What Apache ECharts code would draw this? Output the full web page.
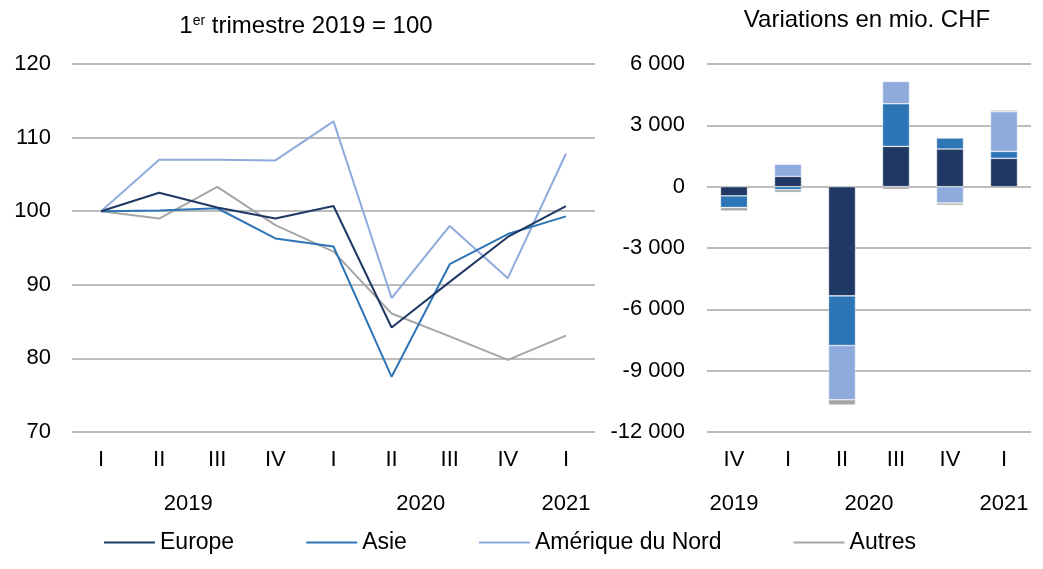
<!DOCTYPE html>
<html>
<head>
    <meta charset="UTF-8">
    <title></title>
    <style>
        html, body { margin: 0; padding: 0; background: #fff; }
        #container { width: 1043px; height: 569px; }
    </style>
</head>
<body>
    <div id="container"></div>
    <script src="https://cdn.jsdelivr.net/npm/echarts@6/dist/echarts.min.js"></script>
    <script>
        // indice, 1er trimestre 2019 = 100
        var quartersLeft = ['I', 'II', 'III', 'IV', 'I', 'II', 'III', 'IV', 'I'];
        var yearsLeft = ['2019', '2019', '2019', '2019', '2020', '2020', '2020', '2020', '2021'];
        var europeIdx = [100, 102.5, 100.5, 99.0, 100.7, 84.2, 90.4, 96.5, 100.7];
        var asieIdx = [100, 100.1, 100.4, 96.3, 95.2, 77.5, 92.8, 96.9, 99.3];
        var ameriqueIdx = [100, 107.0, 107.0, 106.9, 112.2, 88.2, 98.0, 90.9, 107.8];
        var autresIdx = [100, 99.0, 103.3, 98.1, 94.5, 86.1, 83.0, 79.8, 83.1];

        // variations en mio. CHF
        var quartersRight = ['IV', 'I', 'II', 'III', 'IV', 'I'];
        var yearsRight = ['2019', '2020', '2020', '2020', '2020', '2021'];
        var europeVar = [-450, 505, -5340, 1970, 1840, 1385];
        var asieVar = [-570, -150, -2430, 2085, 540, 340];
        var ameriqueVar = [0, 590, -2650, 1090, -800, 1940];
        var autresVar = [-170, -130, -260, -130, -110, 80];

        var names = ['Europe', 'Asie', 'Amérique du Nord', 'Autres'];
        var colors = ['#203864', '#2e75b6', '#8faadc', '#a6a6a6'];

        var FONT = '"Liberation Sans", Arial, sans-serif';
        var gridLine = { show: true, lineStyle: { color: '#a6a6a6', width: 1.5 } };

        // centre of each year's group of quarters, in category units
        function yearCenters(years) {
            var out = {};
            years.forEach(function (y, i) {
                if (!out[y]) out[y] = { a: i, b: i };
                out[y].b = i;
            });
            var vals = [], labels = {};
            Object.keys(out).forEach(function (y) {
                var c = (out[y].a + out[y].b + 1) / 2;
                vals.push(c);
                labels[c] = y;
            });
            return { vals: vals, labels: labels };
        }
        var yl = yearCenters(yearsLeft);
        var yr = yearCenters(yearsRight);

        function fmtThousands(v) {
            return String(v).replace(/\B(?=(\d{3})+(?!\d))/g, ' ');
        }

        function quarterAxis(grid, data) {
            return {
                type: 'category', gridIndex: grid, data: data, position: 'bottom',
                axisLine: { show: false }, axisTick: { show: false },
                axisLabel: { color: '#000', fontSize: 22, fontFamily: FONT, margin: 17 }
            };
        }
        function yearAxis(grid, n, yc) {
            return {
                type: 'value', gridIndex: grid, position: 'bottom', min: 0, max: n,
                axisLine: { show: false }, axisTick: { show: false }, splitLine: { show: false },
                axisLabel: {
                    customValues: yc.vals, color: '#000', fontSize: 22, fontFamily: FONT, margin: 61,
                    formatter: function (v) { return yc.labels[v] || ''; }
                }
            };
        }

        var series = [];
        [europeIdx, asieIdx, ameriqueIdx, autresIdx].forEach(function (d, i) {
            series.push({
                name: names[i], type: 'line', xAxisIndex: 0, yAxisIndex: 0, data: d,
                symbol: 'none', color: colors[i],
                lineStyle: { width: 2, color: colors[i] }, z: 10 - i
            });
        });
        [europeVar, asieVar, ameriqueVar, autresVar].forEach(function (d, i) {
            series.push({
                name: names[i], type: 'bar', xAxisIndex: 2, yAxisIndex: 1, data: d,
                stack: 'var', barWidth: '50%', color: colors[i],
                itemStyle: { color: colors[i], borderColor: 'rgba(255,255,255,0.7)', borderWidth: 0.6 }
            });
        });

        var myChart = echarts.init(document.getElementById('container'));
        myChart.setOption({
            animation: false,
            textStyle: { fontFamily: FONT },
            title: [{
                text: '1{sup|er} trimestre 2019 = 100', left: 301, top: 9, textAlign: 'center',
                textStyle: {
                    fontSize: 24, fontWeight: 'normal', color: '#000', fontFamily: FONT,
                    rich: { sup: { fontSize: 14, verticalAlign: 'top', color: '#000', fontFamily: FONT } }
                }
            }, {
                text: 'Variations en mio. CHF', left: 862, top: 3, textAlign: 'center',
                textStyle: { fontSize: 24, fontWeight: 'normal', color: '#000', fontFamily: FONT }
            }],
            legend: {
                data: names, left: 99, top: 526, icon: 'rect', itemWidth: 51, itemHeight: 2,
                itemGap: 72, textStyle: { fontSize: 23, color: '#000', fontFamily: FONT }
            },
            grid: [
                { left: 72, top: 64, width: 523, height: 368, containLabel: false },
                { left: 707, top: 64, width: 324, height: 368, containLabel: false }
            ],
            xAxis: [
                quarterAxis(0, quartersLeft),
                yearAxis(0, quartersLeft.length, yl),
                quarterAxis(1, quartersRight),
                yearAxis(1, quartersRight.length, yr)
            ],
            yAxis: [{
                type: 'value', gridIndex: 0, min: 70, max: 120, interval: 10,
                axisLine: { show: false }, axisTick: { show: false }, splitLine: gridLine,
                axisLabel: { color: '#000', fontSize: 22, fontFamily: FONT, margin: 21 }
            }, {
                type: 'value', gridIndex: 1, min: -12000, max: 6000, interval: 3000,
                axisLine: { show: false }, axisTick: { show: false }, splitLine: gridLine,
                axisLabel: { color: '#000', fontSize: 22, fontFamily: FONT, margin: 22, formatter: fmtThousands }
            }],
            series: series
        });
    </script>
</body>
</html>
